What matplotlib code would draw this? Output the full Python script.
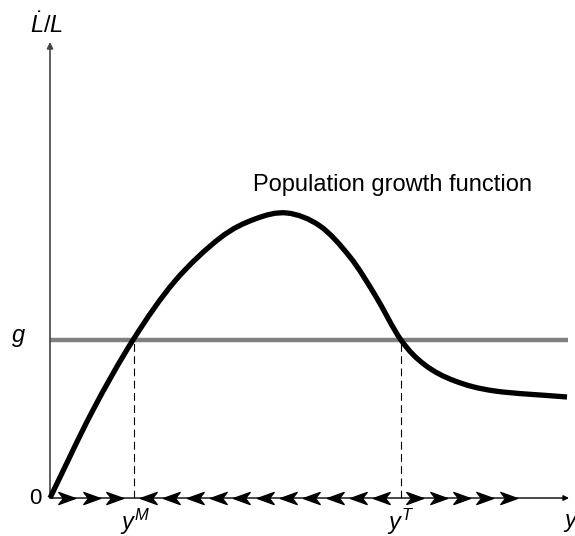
import matplotlib
matplotlib.use("Agg")
import matplotlib.pyplot as plt
import numpy as np
from matplotlib.path import Path
from matplotlib.patches import PathPatch

plt.rcParams['font.family'] = ['Liberation Sans', 'DejaVu Sans']
plt.rcParams['mathtext.fontset'] = 'custom'
plt.rcParams['mathtext.rm'] = 'Liberation Sans'
plt.rcParams['mathtext.it'] = 'Liberation Sans:italic'

# Population growth rate as a function of income per capita
income = [0.00, 0.42, 0.83, 1.25, 1.70, 2.05, 2.37, 2.70, 3.00,
          3.25, 3.51, 3.75, 4.05, 4.45, 5.17]
growth = [0.00, 0.86, 1.58, 2.17, 2.60, 2.79, 2.85, 2.72, 2.41,
          2.03, 1.58, 1.33, 1.17, 1.07, 1.01]

g_rate = 1.58
y_M = 0.84
y_T = 3.51

# direction of motion along the income axis
arrows_right = [0.25, 0.50, 0.73, 3.73, 3.97, 4.20, 4.43, 4.67]
arrows_left = [0.90, 1.13, 1.37, 1.60, 1.83, 2.07, 2.30, 2.53, 2.77, 3.00, 3.23]


def smooth_path(xs, ys):
    # Catmull-Rom through the points, written as cubic Bezier segments
    pts = np.column_stack([xs, ys])
    ext = np.vstack([2 * pts[0] - pts[1], pts, 2 * pts[-1] - pts[-2]])
    verts = [pts[0]]
    codes = [Path.MOVETO]
    for i in range(1, len(ext) - 2):
        p0, p1, p2, p3 = ext[i - 1], ext[i], ext[i + 1], ext[i + 2]
        verts += [p1 + (p2 - p0) / 6, p2 - (p3 - p1) / 6, p2]
        codes += [Path.CURVE4] * 3
    return Path(verts, codes)


fig = plt.figure(figsize=(5.75, 5.36), dpi=100)
ax = fig.add_axes([0, 0, 1, 1])
ax.set_xlim(-0.50, 5.25)
ax.set_ylim(-0.38, 4.98)
ax.axis('off')

# axes with arrowheads
ax.annotate('', xy=(0, 4.56), xytext=(0, 0),
            arrowprops=dict(arrowstyle='-|>', color='#444444', lw=1.2,
                            mutation_scale=9, shrinkA=0, shrinkB=0))
ax.annotate('', xy=(5.19, 0), xytext=(0, 0),
            arrowprops=dict(arrowstyle='-|>', color='black', lw=1.0,
                            mutation_scale=8, shrinkA=0, shrinkB=0))

ax.plot([0, 5.18], [g_rate, g_rate], color='#808080', lw=3.2,
        solid_capstyle='butt', zorder=2)

for xv in (y_M, y_T):
    ax.plot([xv, xv], [0, g_rate], color='black', lw=0.8,
            dashes=(7, 4), zorder=1)

ax.add_patch(PathPatch(smooth_path(income, growth), facecolor='none',
                       edgecolor='black', lw=3.8, capstyle='butt', zorder=3))

chev_r = Path([(0, 0), (-1, 0.36), (-0.72, 0), (-1, -0.36), (0, 0)],
              [Path.MOVETO, Path.LINETO, Path.LINETO, Path.LINETO, Path.CLOSEPOLY])
chev_l = Path([(0, 0), (1, 0.36), (0.72, 0), (1, -0.36), (0, 0)],
              [Path.MOVETO, Path.LINETO, Path.LINETO, Path.LINETO, Path.CLOSEPOLY])
ax.plot(arrows_right, [0] * len(arrows_right), ls='none', marker=chev_r,
        ms=24, color='black', zorder=4)
ax.plot(arrows_left, [0] * len(arrows_left), ls='none', marker=chev_l,
        ms=24, color='black', zorder=4)

ax.text(2.03, 3.13, 'Population growth function', fontsize=17,
        ha='left', va='center')
ax.text(-0.08, -0.01, '0', fontsize=16, ha='right', va='center')
ax.text(-0.32, g_rate + 0.02, '$g$', fontsize=17, ha='center', va='center')
ax.text(y_M + 0.01, -0.24, '$y^M$', fontsize=17, ha='center', va='center')
ax.text(y_T, -0.24, '$y^T$', fontsize=17, ha='center', va='center')
ax.text(5.13, -0.25, '$y$', fontsize=17, ha='left', va='center')
ax.text(-0.03, 4.73, r'$\dot{L}/L$', fontsize=17, ha='center', va='center')

fig.savefig('out.png', dpi=100)
